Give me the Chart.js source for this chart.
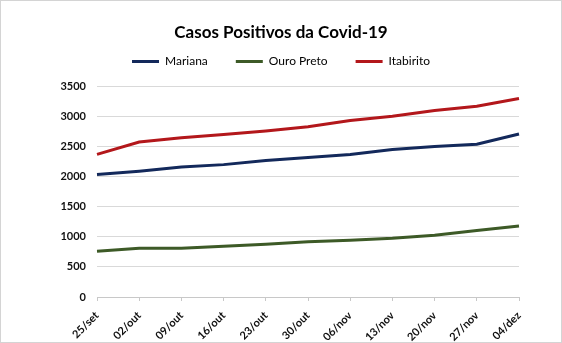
<!DOCTYPE html>
<html>
<head>
<meta charset="utf-8">
<script src="https://cdn.jsdelivr.net/npm/chart.js@4/dist/chart.umd.min.js"></script>
<style>
  html, body { margin: 0; padding: 0; background: #fff; }
  canvas { display: block; }
</style>
</head>
<body>
<canvas id="casos" width="562" height="343"></canvas>
<script>
// weekly dates (x axis)
const datas = ['25/set', '02/out', '09/out', '16/out', '23/out', '30/out', '06/nov', '13/nov', '20/nov', '27/nov', '04/dez'];
// accumulated positive cases per town
const mariana = [2035, 2090, 2160, 2200, 2270, 2320, 2370, 2450, 2500, 2540, 2710];
const ouroPreto = [760, 810, 810, 845, 875, 920, 945, 975, 1025, 1105, 1180];
const itabirito = [2370, 2575, 2645, 2700, 2760, 2830, 2935, 3005, 3100, 3170, 3300];

const cores = { mariana: '#13295b', ouroPreto: '#3d5a27', itabirito: '#b3171b' };
const fonte = 'Lato, "Open Sans", sans-serif';

// thin grey frame round the whole chart
const moldura = {
	id: 'moldura',
	afterDraw(chart) {
		const ctx = chart.ctx;
		ctx.save();
		ctx.strokeStyle = '#d4d4d4';
		ctx.lineWidth = 1;
		ctx.strokeRect(0.5, 0.5, chart.width - 1, chart.height - 1);
		ctx.restore();
	}
};

const serie = (label, data, cor) => ({
	label: label,
	data: data,
	borderColor: cor,
	backgroundColor: cor,
	borderWidth: 3,
	pointRadius: 0,
	tension: 0,
	fill: false
});

new Chart(document.getElementById('casos'), {
	type: 'line',
	plugins: [moldura],
	data: {
		labels: datas,
		datasets: [
			serie('Mariana', mariana, cores.mariana),
			serie('Ouro Preto', ouroPreto, cores.ouroPreto),
			serie('Itabirito', itabirito, cores.itabirito)
		]
	},
	options: {
		responsive: false,
		animation: false,
		devicePixelRatio: 1,
		layout: { padding: 0 },
		plugins: {
			tooltip: { enabled: false },
			title: {
				display: true,
				text: 'Casos Positivos da Covid-19',
				color: '#000',
				font: { family: fonte, size: 17, weight: 'bold' },
				padding: { top: 22, bottom: -15 }
			},
			// empty subtitle used as a gap between legend and plot
			subtitle: {
				display: true,
				text: '',
				weight: 500,
				font: { size: 9, lineHeight: 1 },
				padding: 0
			},
			legend: {
				display: true,
				labels: {
					color: '#000',
					font: { family: fonte, size: 12 },
					boxWidth: 27,
					boxHeight: 3,
					padding: 28,
					// solid bar instead of outlined box
					generateLabels: chart =>
						Chart.defaults.plugins.legend.labels.generateLabels(chart).map(item => {
							item.lineWidth = 0;
							item.fillStyle = item.strokeStyle;
							return item;
						})
				}
			}
		},
		scales: {
			x: {
				offset: false,
				grid: { drawOnChartArea: false, drawTicks: true, tickLength: 4, color: '#c8c8c8' },
				border: { display: true, color: '#c8c8c8' },
				ticks: {
					color: '#111',
					font: { family: fonte, size: 11, weight: 'bold' },
					minRotation: 45,
					maxRotation: 45,
					autoSkip: false,
					padding: 8
				},
				afterFit: s => { s.height = 46; }
			},
			y: {
				min: 0,
				max: 3500,
				grid: { color: '#d9d9d9', drawTicks: false },
				border: { display: false },
				ticks: {
					stepSize: 500,
					color: '#111',
					padding: 11,
					font: { family: fonte, size: 11, weight: 'bold' },
					callback: v => String(v)
				},
				afterFit: s => { s.width = 97; }
			},
			// blank right margin so title and legend stay centred on the canvas
			margem: {
				type: 'linear',
				position: 'right',
				display: true,
				grid: { display: false },
				border: { display: false },
				ticks: { display: false },
				afterFit: s => { s.width = 43; }
			}
		}
	}
});
</script>
</body>
</html>
